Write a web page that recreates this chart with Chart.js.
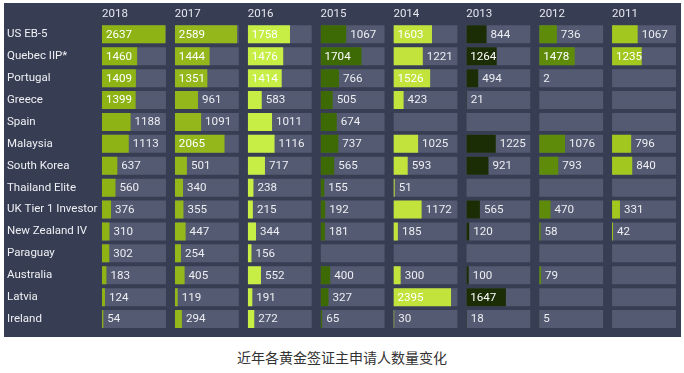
<!DOCTYPE html>
<html>
<head>
<meta charset="utf-8">
<script src="https://cdn.jsdelivr.net/npm/chart.js@4/dist/chart.umd.min.js"></script>
<style>
  html, body { margin: 0; padding: 0; background: #fff; width: 684px; height: 373px; overflow: hidden; }
  #panel { position: absolute; left: 4px; top: 3px; width: 677px; height: 334px; background: #373d52; }
  #caption { position: absolute; left: 0; top: 347px; width: 684px; text-align: center;
             font: 14px "Noto Sans CJK SC", sans-serif; color: #333; }
</style>
</head>
<body>
<div id="panel"><canvas id="chart" width="677" height="334"></canvas></div>
<div id="caption">近年各黄金签证主申请人数量变化</div>
<script>
// Golden visa main applicants by programme, one small bar column per year.

const programs = ["US EB-5", "Quebec IIP*", "Portugal", "Greece", "Spain", "Malaysia", "South Korea",
  "Thailand Elite", "UK Tier 1 Investor", "New Zealand IV", "Paraguay", "Australia", "Latvia", "Ireland"];
const years = ["2018", "2017", "2016", "2015", "2014", "2013", "2012", "2011"];

const v2018 = [2637, 1460, 1409, 1399, 1188, 1113, 637, 560, 376, 310, 302, 183, 124, 54];
const v2017 = [2589, 1444, 1351, 961, 1091, 2065, 501, 340, 355, 447, 254, 405, 119, 294];
const v2016 = [1758, 1476, 1414, 583, 1011, 1116, 717, 238, 215, 344, 156, 552, 191, 272];
const v2015 = [1067, 1704, 766, 505, 674, 737, 565, 155, 192, 181, null, 400, 327, 65];
const v2014 = [1603, 1221, 1526, 423, null, 1025, 593, 51, 1172, 185, null, 300, 2395, 30];
const v2013 = [844, 1264, 494, 21, null, 1225, 921, null, 565, 120, null, 100, 1647, 18];
const v2012 = [736, 1478, 2, null, null, 1076, 793, null, 470, 58, null, 79, null, 5];
const v2011 = [1067, 1235, null, null, null, 796, 840, null, 331, 42, null, null, null, null];
const yearValues = [v2018, v2017, v2016, v2015, v2014, v2013, v2012, v2011];

const yearColors = ["#8db414", "#94b81b", "#c6ee45", "#3e6a06", "#c2e23c", "#1b2d05", "#5e8c0a", "#a2c71e"];
const CELL_FULL = 2660;      // value that fills a whole grey cell
const INSIDE_FROM = 1230;    // labels of bars this long sit inside the bar
const CELL_W = 64, PITCH = 72.9;

const FONT = "Roboto";
const cellGrey = "#545a71";

const datasets = [];
const scales = {};
// top boxes get laid out last-first, so add the year axes in reverse
for (let i = years.length - 1; i >= 0; i--) {
  const last = i === years.length - 1;
  scales["x" + i] = {
    type: "linear",
    position: "top",
    stack: "years",
    stackWeight: last ? CELL_W : PITCH,
    min: 0,
    max: last ? CELL_FULL : CELL_FULL * PITCH / CELL_W,
    grid: { display: false, drawTicks: false },
    border: { display: false },
    ticks: { display: false },
    title: { display: true, text: years[i], align: "start", color: "#e6e8ee",
             font: { family: FONT, size: 11.5 }, padding: { top: 0, bottom: 2.6 } },
  };
}
years.forEach((yr, i) => {
  datasets.push({
    data: yearValues[i],
    xAxisID: "x" + i,
    backgroundColor: yearColors[i],
    isValue: true,
    order: 0,
  });
  datasets.push({
    data: programs.map(() => CELL_FULL),
    xAxisID: "x" + i,
    backgroundColor: cellGrey,
    order: 1,
  });
});

scales.y = {
  type: "category",
  position: "left",
  grid: { display: false, drawTicks: false },
  border: { display: false },
  ticks: { color: "#eef0f4", crossAlign: "far", padding: 0, font: { family: FONT, size: 11.5 } },
  afterFit: (s) => { s.width = 95; },
};

const cellLabels = {
  id: "cellLabels",
  afterDatasetsDraw(chart) {
    const ctx = chart.ctx;
    ctx.save();
    ctx.font = "11.6px " + FONT;
    ctx.textBaseline = "middle";
    ctx.textAlign = "left";
    chart.data.datasets.forEach((ds, i) => {
      if (!ds.isValue) return;
      chart.getDatasetMeta(i).data.forEach((bar, j) => {
        const v = ds.data[j];
        if (v == null) return;
        const inside = v >= INSIDE_FROM;
        ctx.fillStyle = inside ? "#ffffff" : "#eceef2";
        ctx.fillText(String(v), (inside ? bar.base : bar.x) + 4, bar.y + 0.5);
      });
    });
    ctx.restore();
  },
};

new Chart(document.getElementById("chart").getContext("2d"), {
  type: "bar",
  data: { labels: programs, datasets },
  options: {
    responsive: false,
    animation: false,
    indexAxis: "y",
    grouped: false,
    barPercentage: 0.82,
    categoryPercentage: 1,
    layout: { padding: { top: 4, right: 5, bottom: 7, left: 3 } },
    plugins: { legend: { display: false }, tooltip: { enabled: false } },
    scales,
  },
  plugins: [cellLabels],
});
</script>
</body>
</html>
